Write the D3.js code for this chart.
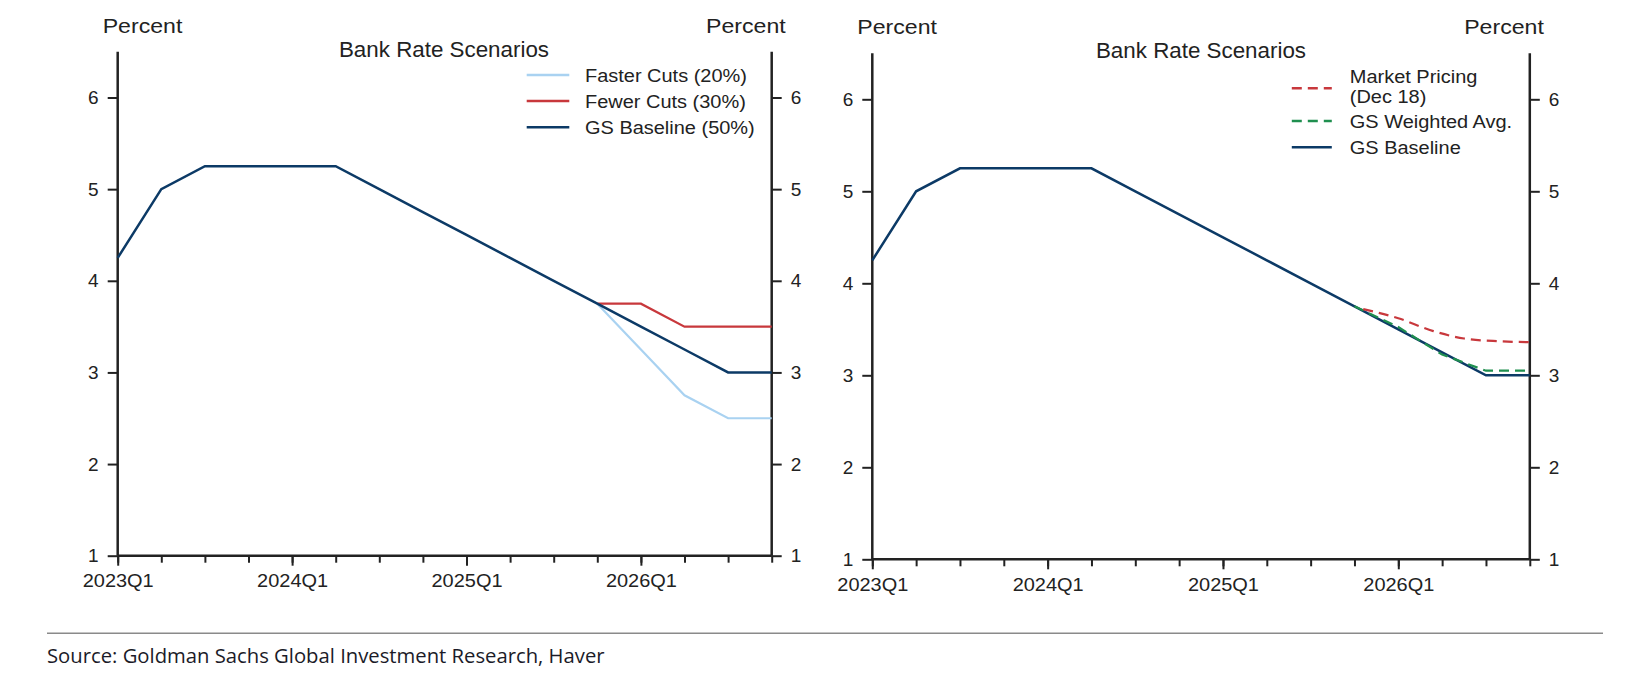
<!DOCTYPE html>
<html>
<head>
<meta charset="utf-8">
<script src="https://cdn.jsdelivr.net/npm/d3@7"></script>
<style>
  html, body { margin: 0; padding: 0; background: #ffffff; }
  svg { display: block; }
  text { font-family: "Liberation Sans", Arial, Helvetica, sans-serif; fill: #222; }
</style>
</head>
<body>
<svg id="chart" width="1626" height="694"></svg>
<script>
// ---------------- DATA ----------------
const quarters = ["2023Q1","2023Q2","2023Q3","2023Q4","2024Q1","2024Q2","2024Q3","2024Q4",
                  "2025Q1","2025Q2","2025Q3","2025Q4","2026Q1","2026Q2","2026Q3","2026Q4"];
const xTickLabels = ["2023Q1","2024Q1","2025Q1","2026Q1"];
const yTicks = [1, 2, 3, 4, 5, 6];

// Bank Rate scenarios (percent), aligned to quarters (null = not shown)
const gsBaseline  = [4.25, 5.0, 5.25, 5.25, 5.25, 5.25, 5.0, 4.75, 4.5, 4.25, 4.0, 3.75, 3.5, 3.25, 3.0, 3.0];
const fasterCuts  = [null, null, null, null, null, null, null, null, null, null, null, 3.75, 3.25, 2.75, 2.5, 2.5];
const fewerCuts   = [null, null, null, null, null, null, null, null, null, null, null, 3.75, 3.75, 3.5, 3.5, 3.5];
const gsWeighted  = [null, null, null, null, null, null, null, null, null, null, null, 3.75, 3.525, 3.225, 3.05, 3.05];

// Market pricing (Dec 18): position in quarters since 2023Q1, and value
const marketPos    = [11.2, 12.0, 12.8, 13.5, 14.3, 15.0];
const marketValues = [3.72, 3.62, 3.48, 3.40, 3.37, 3.36];

const titleText = "Bank Rate Scenarios";
const sourceText = "Source: Goldman Sachs Global Investment Research, Haver";

// ---------------- DRAW ----------------
const svg = d3.select("#chart");
const C = { navy: "#0c3a66", red: "#c8383c", lightBlue: "#a9d2f1", green: "#1f8f4f", axis: "#222" };

// widen glyphs slightly (the reference text is horizontally stretched)
function stretch(sel, f) {
  sel.each(function () {
    const w = this.getComputedTextLength();
    if (w > 0) d3.select(this).attr("textLength", w * f).attr("lengthAdjust", "spacingAndGlyphs");
  });
}

function toPoints(vals) {
  return vals.map((v, i) => ({ x: i, y: v })).filter(d => d.y !== null);
}

function drawPanel(opt) {
  const g = svg.append("g");
  const x = d3.scaleLinear().domain([0, quarters.length - 1]).range([opt.left, opt.right]);
  const y = d3.scaleLinear().domain([1, 6.5]).range([opt.bottom, opt.top]);

  const idx = d3.range(quarters.length);
  const xMinor = d3.axisBottom(x).tickValues(idx).tickSize(7).tickFormat("");
  const gxm = g.append("g").attr("transform", `translate(0,${opt.bottom})`).call(xMinor);
  gxm.select(".domain").remove();
  gxm.selectAll("line").attr("stroke", C.axis).attr("stroke-width", 2);

  const majorIdx = xTickLabels.map(l => quarters.indexOf(l));
  const xMajor = d3.axisBottom(x).tickValues(majorIdx).tickSize(10).tickPadding(8)
    .tickFormat(i => quarters[i]);
  const gx = g.append("g").attr("transform", `translate(0,${opt.bottom})`).call(xMajor);
  gx.select(".domain").remove();
  gx.selectAll("line").attr("stroke", C.axis).attr("stroke-width", 2);
  gx.selectAll("text").attr("font-size", 19).attr("fill", "#222")
    .attr("font-family", '"Liberation Sans", Arial, sans-serif');
  stretch(gx.selectAll("text"), 1.05);

  g.append("line").attr("x1", opt.left).attr("x2", opt.right)
    .attr("y1", opt.bottom).attr("y2", opt.bottom)
    .attr("stroke", C.axis).attr("stroke-width", 2.5);

  const yl = d3.axisLeft(y).tickValues(yTicks).tickSize(10).tickPadding(9).tickFormat(d3.format("d"));
  const gyl = g.append("g").attr("transform", `translate(${opt.left},0)`).call(yl);
  const yr = d3.axisRight(y).tickValues(yTicks).tickSize(10).tickPadding(9).tickFormat(d3.format("d"));
  const gyr = g.append("g").attr("transform", `translate(${opt.right},0)`).call(yr);
  [gyl, gyr].forEach(a => {
    a.select(".domain").attr("stroke", C.axis).attr("stroke-width", 2.5)
      .attr("d", `M0,${opt.top}V${opt.bottom}`);
    a.selectAll("line").attr("stroke", C.axis).attr("stroke-width", 2);
    a.selectAll("text").attr("font-size", 19).attr("fill", "#222")
      .attr("font-family", '"Liberation Sans", Arial, sans-serif');
  });

  const p1 = g.append("text").attr("x", opt.left - 15).attr("y", opt.top - 19)
    .attr("font-size", 21).text("Percent");
  const p2 = g.append("text").attr("x", opt.right + 14).attr("y", opt.top - 19)
    .attr("text-anchor", "end").attr("font-size", 21).text("Percent");
  stretch(p1, 1.1);
  stretch(p2, 1.1);

  const t = g.append("text").attr("x", opt.titleX).attr("y", opt.top + 5)
    .attr("text-anchor", "middle").attr("font-size", 21.5).text(titleText);
  stretch(t, 1.04);

  const plot = g.append("g");
  opt.series.forEach(s => {
    const gen = d3.line().x(d => x(d.x)).y(d => y(d.y));
    if (s.curve) gen.curve(s.curve);
    plot.append("path").datum(s.points)
      .attr("d", gen)
      .attr("fill", "none").attr("stroke", s.color).attr("stroke-width", s.width)
      .attr("stroke-dasharray", s.dash || null)
      .attr("stroke-linejoin", "miter");
  });

  const lg = g.append("g");
  opt.legend.forEach(L => {
    lg.append("line").attr("x1", opt.right - opt.legX1).attr("x2", opt.right - opt.legX2)
      .attr("y1", L.y).attr("y2", L.y)
      .attr("stroke", L.color).attr("stroke-width", 2.5).attr("stroke-dasharray", L.dash || null);
    L.lines.forEach((txt, k) => {
      const tt = lg.append("text").attr("x", opt.right - opt.legText).attr("y", L.textY + k * 19.7)
        .attr("font-size", 18.7).text(txt);
      stretch(tt, 1.068);
    });
  });
}

const basePts = toPoints(gsBaseline);

drawPanel({
  left: 117.7, right: 771.7, top: 51.7, bottom: 555.7, titleX: 444,
  legX1: 245, legX2: 202.4, legText: 186.7,
  series: [
    { points: toPoints(fasterCuts), color: C.lightBlue, width: 2.2 },
    { points: toPoints(fewerCuts), color: C.red, width: 2.2 },
    { points: basePts, color: C.navy, width: 2.5 }
  ],
  legend: [
    { y: 75, textY: 81.7, color: C.lightBlue, lines: ["Faster Cuts (20%)"] },
    { y: 101, textY: 107.7, color: C.red, lines: ["Fewer Cuts (30%)"] },
    { y: 127.3, textY: 133.5, color: C.navy, lines: ["GS Baseline (50%)"] }
  ]
});

drawPanel({
  left: 872.3, right: 1529.8, top: 53.3, bottom: 559.3, titleX: 1201,
  legX1: 238, legX2: 198, legText: 180,
  series: [
    { points: basePts, color: C.navy, width: 2.5 },
    { points: toPoints(gsWeighted), color: C.green, width: 2.2, dash: "10,6" },
    { points: marketPos.map((p, i) => ({ x: p, y: marketValues[i] })), color: C.red, width: 2.2, dash: "10,6", curve: d3.curveMonotoneX }
  ],
  legend: [
    { y: 88.3, textY: 83.3, color: C.red, dash: "10,6", lines: ["Market Pricing", "(Dec 18)"] },
    { y: 121, textY: 127.5, color: C.green, dash: "10,6", lines: ["GS Weighted Avg."] },
    { y: 147.3, textY: 153.5, color: C.navy, lines: ["GS Baseline"] }
  ]
});

svg.append("line").attr("x1", 47).attr("x2", 1603).attr("y1", 633.3).attr("y2", 633.3)
  .attr("stroke", "#8a8a8a").attr("stroke-width", 1.5);
const src = svg.append("text").attr("x", 47).attr("y", 663.3)
  .style("font-family", '"Open Sans", "Noto Sans", sans-serif')
  .attr("font-size", 19).style("fill", "#1b1b28").text(sourceText);
const w = src.node().getComputedTextLength();
if (w > 0) src.attr("font-size", 19 * 558 / w);
</script>
</body>
</html>
